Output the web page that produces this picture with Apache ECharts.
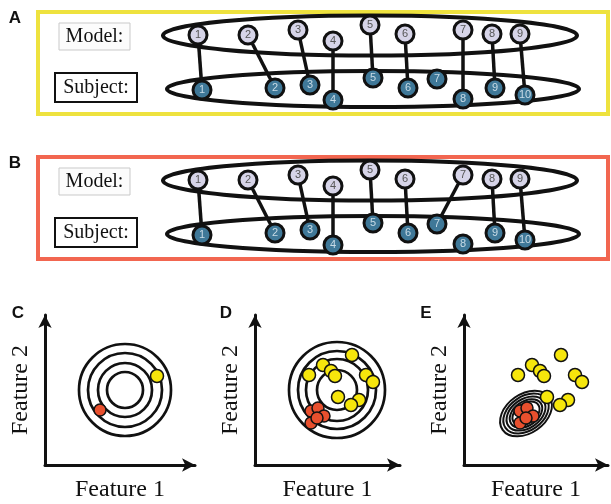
<!DOCTYPE html>
<html>
<head>
<meta charset="utf-8">
<script src="https://cdn.jsdelivr.net/npm/echarts@6/dist/echarts.min.js"></script>
<style>html,body{margin:0;padding:0;background:#fff}#c{width:611px;height:504px}</style>
</head>
<body>
<div id="c"></div>
<script>
// ---- Panels A/B : model & subject nodes (same layout in both panels) ----
const modelX = [198, 248, 298, 333, 370, 405, 463, 492, 520];
const modelY = [35, 35, 30, 41, 25, 34, 30, 34, 34];
const subjectX = [202, 275, 310, 333, 373, 408, 437, 463, 495, 525];
const subjectY = [90, 88, 85, 100, 78, 88, 79, 99, 88, 95];
// pairs [model #, subject #]
const linksA = [[1,1],[2,2],[3,3],[4,4],[5,5],[6,6],[7,8],[8,9],[9,10]];
const linksB = [[1,1],[2,2],[3,3],[4,4],[5,5],[6,6],[7,7],[8,9],[9,10]];
// ellipses [cx, cy, rx, ry]
const setEllipses = [[370, 35.5, 207, 20], [373, 89, 206, 18]];

// ---- Panels C/D/E : feature space ----
const ringsC = [[8.0, 7.5, 4.6], [8.0, 7.5, 3.7], [8.0, 7.5, 2.7], [8.0, 7.5, 1.8]];
const yellowC = [[11.2, 8.9]];
const redC = [[5.5, 5.5]];
const ringsD = [[8.2, 7.5, 4.8], [8.2, 7.5, 3.9], [8.2, 7.5, 3.1], [8.2, 7.5, 2.0]];
const yellowDE = [[9.7,11.0],[6.8,10.0],[7.6,9.4],[8.0,8.9],[5.4,9.0],[11.1,9.0],[11.8,8.3],[8.3,6.8],[10.4,6.5],[9.6,6.0]];
const redDE = [[5.6,5.4],[6.3,5.7],[6.9,4.9],[5.6,4.2],[6.2,4.7]];
// tilted ellipses [cx, cy, rx, ry, angleDeg]
const ellipsesE = [[6.2,5.15,2.85,1.95,35],[6.2,5.15,2.5,1.7,35],[6.2,5.15,2.15,1.45,35],[6.2,5.15,1.8,1.2,35],[6.2,5.15,1.5,1.0,35]];

const modelFill = '#d6d4e8', subjectFill = '#3f7898';

function linkSeries(links, gi) {
  const data = links.map(l => [modelX[l[0] - 1], modelY[l[0] - 1], subjectX[l[1] - 1], subjectY[l[1] - 1]]);
  return {
    type: 'custom', xAxisIndex: gi, yAxisIndex: gi, z: 3, clip: false, silent: true,
    data: data, encode: { x: [0, 2], y: [1, 3] },
    renderItem: function (params, api) {
      const a = api.coord([api.value(0), api.value(1)]);
      const b = api.coord([api.value(2), api.value(3)]);
      return { type: 'line', shape: { x1: a[0], y1: a[1], x2: b[0], y2: b[1] }, style: { stroke: '#111', lineWidth: 3.5 } };
    }
  };
}

function nodeSeries(xs, ys, gi, fill, textColor) {
  return {
    type: 'scatter', xAxisIndex: gi, yAxisIndex: gi, z: 5, silent: true,
    data: xs.map((x, i) => [x, ys[i], i + 1]),
    symbol: 'circle', symbolSize: 18,
    itemStyle: { color: fill, borderColor: '#111', borderWidth: 3, opacity: 1 },
    label: { show: true, position: 'inside', formatter: p => String(p.value[2]), fontSize: 11, fontFamily: 'Liberation Sans', color: textColor },
    emphasis: { disabled: true }
  };
}

function ellipseSeries(data, gi, lw) {
  return {
    type: 'custom', xAxisIndex: gi, yAxisIndex: gi, z: 2, clip: false,
    data: data, encode: { x: 0, y: 1 }, silent: true,
    renderItem: function (params, api) {
      const c = api.coord([api.value(0), api.value(1)]);
      const s = api.size([api.value(2), api.value(3)]);
      const ang = (api.value(4) || 0) * Math.PI / 180;
      return {
        type: 'ellipse', x: c[0], y: c[1], rotation: ang,
        shape: { cx: 0, cy: 0, rx: s[0], ry: s[1] },
        style: { fill: 'none', stroke: '#111', lineWidth: lw }
      };
    }
  };
}

function ringSeries(data, gi) {
  return {
    type: 'custom', xAxisIndex: gi, yAxisIndex: gi, z: 2, clip: false,
    data: data, encode: { x: 0, y: 1 }, silent: true,
    renderItem: function (params, api) {
      const c = api.coord([api.value(0), api.value(1)]);
      const r = api.size([api.value(2), 0])[0];
      return {
        type: 'circle', shape: { cx: c[0], cy: c[1], r: r },
        style: { fill: 'none', stroke: '#111', lineWidth: 2.7 }
      };
    }
  };
}

function dots(data, gi, color, size) {
  return {
    type: 'scatter', xAxisIndex: gi, yAxisIndex: gi, z: 4, data: data,
    symbolSize: size, itemStyle: { color: color, borderColor: '#111', borderWidth: 1.5, opacity: 1 },
    emphasis: { disabled: true }
  };
}

const hidden = { show: false };
function featX(max) {
  return {
    type: 'value', min: 0, max: max, name: 'Feature 1', nameLocation: 'middle', nameGap: 13,
    nameTextStyle: { fontFamily: 'Liberation Serif', fontSize: 24, color: '#111' },
    axisLine: { show: true, onZero: false, symbol: ['none', 'arrow'], symbolSize: [10, 13], lineStyle: { color: '#111', width: 3 } },
    axisTick: hidden, axisLabel: hidden, splitLine: hidden
  };
}
function featY(max) {
  return {
    type: 'value', min: 0, max: max, name: 'Feature 2', nameLocation: 'middle', nameGap: 12,
    nameTextStyle: { fontFamily: 'Liberation Serif', fontSize: 24, color: '#111' },
    axisLine: { show: true, onZero: false, symbol: ['none', 'arrow'], symbolSize: [10, 13], lineStyle: { color: '#111', width: 3 } },
    axisTick: hidden, axisLabel: hidden, splitLine: hidden
  };
}

const serif = '20px "Liberation Serif"';
const letterFont = 'bold 17px "Liberation Sans"';
function txt(x, y, t, font) {
  return { type: 'text', x: x, y: y, z: 10, style: { text: t, font: font, fill: '#111', align: 'center', verticalAlign: 'middle', textAlign: 'center', textVerticalAlign: 'middle' } };
}
function panelGraphics(dy, frameColor, letter) {
  return [
    { type: 'rect', shape: { x: 38, y: 12 + dy, width: 570, height: 102 }, z: 0, style: { fill: 'none', stroke: frameColor, lineWidth: 4 } },
    { type: 'rect', shape: { x: 59, y: 23 + dy, width: 71, height: 27 }, z: 1, style: { fill: '#fcfcfc', stroke: '#c9c9c9', lineWidth: 1 } },
    txt(94.5, 37 + dy, 'Model:', serif),
    { type: 'rect', shape: { x: 55, y: 73 + dy, width: 82, height: 29 }, z: 1, style: { fill: '#fff', stroke: '#111', lineWidth: 2 } },
    txt(96, 88 + dy, 'Subject:', serif),
    txt(15, 18 + dy, letter, letterFont)
  ];
}

const chart = echarts.init(document.getElementById('c'), null, { renderer: 'canvas' });
chart.setOption({
  animation: false,
  backgroundColor: '#fff',
  grid: [
    { left: 0, top: 0, width: 611, height: 145, outerBoundsMode: 'none' },
    { left: 0, top: 145, width: 611, height: 145, outerBoundsMode: 'none' },
    { left: 45, top: 315, width: 150, height: 150, outerBoundsMode: 'none' },
    { left: 255, top: 315, width: 145, height: 150, outerBoundsMode: 'none' },
    { left: 464, top: 315, width: 144, height: 150, outerBoundsMode: 'none' }
  ],
  xAxis: [
    { type: 'value', min: 0, max: 611, show: false, gridIndex: 0 },
    { type: 'value', min: 0, max: 611, show: false, gridIndex: 1 },
    Object.assign(featX(15), { gridIndex: 2 }),
    Object.assign(featX(14.5), { gridIndex: 3 }),
    Object.assign(featX(14.4), { gridIndex: 4 })
  ],
  yAxis: [
    { type: 'value', min: 0, max: 145, inverse: true, show: false, gridIndex: 0 },
    { type: 'value', min: 0, max: 145, inverse: true, show: false, gridIndex: 1 },
    Object.assign(featY(15), { gridIndex: 2 }),
    Object.assign(featY(15), { gridIndex: 3 }),
    Object.assign(featY(15), { gridIndex: 4 })
  ],
  graphic: [].concat(
    panelGraphics(0, '#eee23e', 'A'),
    panelGraphics(145, '#f26650', 'B'),
    [txt(18, 313, 'C', letterFont), txt(226, 313, 'D', letterFont), txt(426, 313, 'E', letterFont)]
  ),
  series: [
    ellipseSeries(setEllipses, 0, 4),
    linkSeries(linksA, 0),
    nodeSeries(modelX, modelY, 0, modelFill, '#555'),
    nodeSeries(subjectX, subjectY, 0, subjectFill, '#c8dbe6'),
    ellipseSeries(setEllipses, 1, 4),
    linkSeries(linksB, 1),
    nodeSeries(modelX, modelY, 1, modelFill, '#555'),
    nodeSeries(subjectX, subjectY, 1, subjectFill, '#c8dbe6'),
    ringSeries(ringsC, 2),
    dots(yellowC, 2, '#f6e60c', 13),
    dots(redC, 2, '#e8502e', 12),
    ringSeries(ringsD, 3),
    dots(yellowDE, 3, '#f6e60c', 13),
    dots(redDE, 3, '#e8502e', 12),
    ellipseSeries(ellipsesE, 4, 2),
    dots(yellowDE, 4, '#f6e60c', 13),
    dots(redDE, 4, '#e8502e', 12)
  ]
});
</script>
</body>
</html>
